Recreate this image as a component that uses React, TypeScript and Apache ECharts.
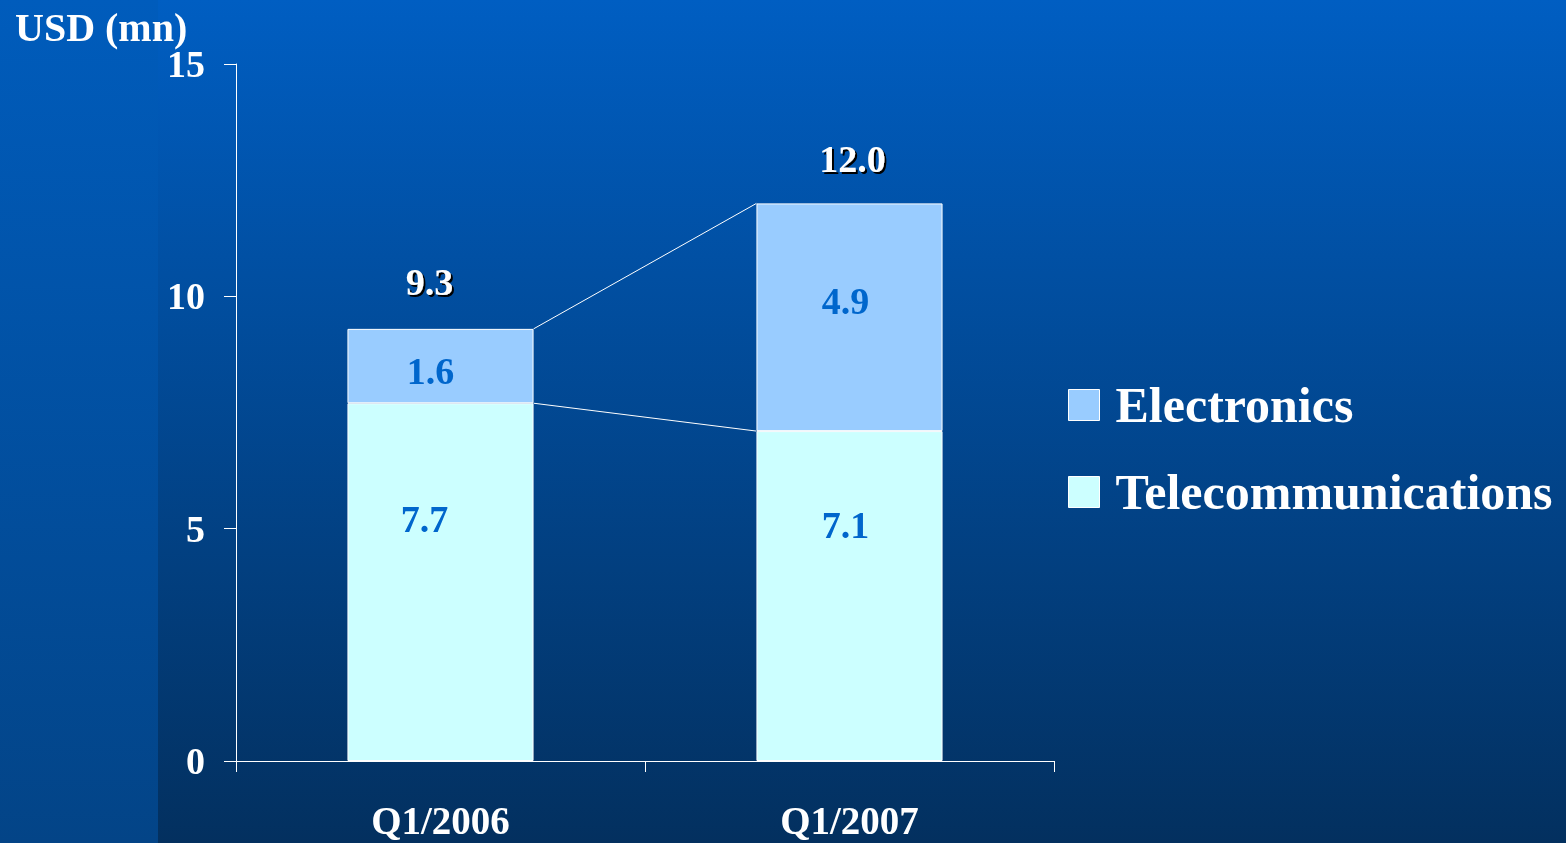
import React, { useEffect, useRef } from "react";
import * as echarts from "echarts";

const categories = ["Q1/2006", "Q1/2007"];
const telecom = [7.7, 7.1];
const electronics = [1.6, 4.9];
const totals = [9.3, 12.0];
const yTicks = [0, 5, 10, 15];

// label offsets (styling only)
const telecomLabelOffsets = [[-16, -63], [-4, -71]];
const elecLabelOffsets = [[-10, 5], [-4, -16]];
const totalLabelOffsets = [[-11, -47], [3, -44]];

const FONT = "'Liberation Serif', 'Times New Roman', serif";
const BAR_FRAC = 0.455;

export default function App() {
  const ref = useRef<HTMLDivElement>(null);
  useEffect(() => {
    if (!ref.current) return;
    const chart = echarts.init(ref.current, null, { renderer: "svg" });
    const connectors: number[][] = [];
    [telecom, totals].forEach((s) => {
      for (let i = 0; i < s.length - 1; i++) connectors.push([i, s[i], s[i + 1]]);
    });
    chart.setOption({
      animation: false,
      graphic: [
        {
          type: "rect",
          z: -10,
          silent: true,
          shape: { x: 0, y: 0, width: 1566, height: 843 },
          style: {
            fill: new echarts.graphic.LinearGradient(0, 0, 0, 1, [
              { offset: 0, color: "#005ec2" },
              { offset: 1, color: "#03305f" },
            ]),
          },
        },
        {
          type: "rect",
          z: -9,
          silent: true,
          shape: { x: 0, y: 0, width: 158, height: 843 },
          style: {
            fill: new echarts.graphic.LinearGradient(0, 0, 0, 1, [
              { offset: 0, color: "#005cbc" },
              { offset: 1, color: "#034487" },
            ]),
          },
        },
      ],
      title: {
        text: "USD (mn)",
        left: 15,
        top: 7,
        padding: 0,
        textStyle: { color: "#fff", fontFamily: FONT, fontWeight: "bold", fontSize: 40 },
      },
      legend: {
        orient: "vertical",
        left: 1068,
        top: 380,
        padding: 0,
        itemWidth: 31,
        itemHeight: 31,
        itemGap: 37,
        icon: "rect",
        data: [
          { name: "Electronics", itemStyle: { borderColor: "#fff", borderWidth: 1 } },
          { name: "Telecommunications", itemStyle: { borderColor: "#fff", borderWidth: 1 } },
        ],
        textStyle: { color: "#fff", fontFamily: FONT, fontWeight: "bold", fontSize: 50, padding: [0, 0, 0, 11] },
      },
      grid: { left: 236, right: 512, top: 64, bottom: 82 },
      xAxis: {
        type: "category",
        data: categories,
        axisLine: { lineStyle: { color: "#fff", width: 1 } },
        axisTick: { show: true, length: 11, lineStyle: { color: "#fff" } },
        axisLabel: { color: "#fff", fontFamily: FONT, fontWeight: "bold", fontSize: 39, margin: 40 },
      },
      yAxis: {
        type: "value",
        min: 0,
        max: 15,
        interval: 5,
        splitLine: { show: false },
        axisLine: { show: true, lineStyle: { color: "#fff", width: 1 } },
        axisTick: { show: true, length: 12, lineStyle: { color: "#fff" } },
        axisLabel: {
          color: "#fff",
          fontFamily: FONT,
          fontWeight: "bold",
          fontSize: 38,
          margin: 31,
          formatter: (v: number) => (yTicks.includes(v) ? String(v) : ""),
        },
      },
      series: [
        {
          name: "Telecommunications",
          type: "bar",
          stack: "total",
          barWidth: BAR_FRAC * 100 + "%",
          itemStyle: { color: "#ccffff", borderColor: "#fff", borderWidth: 1 },
          data: telecom.map((v, i) => ({
            value: v,
            label: { offset: telecomLabelOffsets[i] },
          })),
          label: {
            show: true,
            position: "inside",
            color: "#0066cc",
            fontFamily: FONT,
            fontWeight: "bold",
            fontSize: 38,
            formatter: (p: any) => p.value.toFixed(1),
          },
        },
        {
          name: "Electronics",
          type: "bar",
          stack: "total",
          barWidth: BAR_FRAC * 100 + "%",
          itemStyle: { color: "#99ccff", borderColor: "#fff", borderWidth: 1 },
          data: electronics.map((v, i) => ({
            value: v,
            label: { offset: elecLabelOffsets[i] },
          })),
          label: {
            show: true,
            position: "inside",
            color: "#0066cc",
            fontFamily: FONT,
            fontWeight: "bold",
            fontSize: 38,
            formatter: (p: any) => p.value.toFixed(1),
          },
        },
        {
          name: "Total",
          type: "scatter",
          symbolSize: 0,
          silent: true,
          itemStyle: { opacity: 1 },
          data: totals.map((v, i) => ({
            value: [i, v],
            label: { offset: totalLabelOffsets[i] },
          })),
          label: {
            show: true,
            position: "inside",
            color: "#ffffff",
            opacity: 1,
            fontFamily: FONT,
            fontWeight: "bold",
            fontSize: 38,
            textShadowColor: "#000",
            textShadowOffsetX: 2,
            textShadowOffsetY: 2,
            textShadowBlur: 1,
            formatter: (p: any) => p.value[1].toFixed(1),
          },
          z: 5,
        },
        {
          name: "Connectors",
          type: "custom",
          silent: true,
          encode: { x: 0, y: [1, 2] },
          data: connectors,
          renderItem: (params: any, api: any) => {
            const i = api.value(0);
            const p1 = api.coord([i, api.value(1)]);
            const p2 = api.coord([i + 1, api.value(2)]);
            const bw = api.size([1, 0])[0] * BAR_FRAC;
            return {
              type: "line",
              shape: { x1: p1[0] + bw / 2, y1: p1[1], x2: p2[0] - bw / 2, y2: p2[1] },
              style: { stroke: "#fff", lineWidth: 1 },
            };
          },
          z: 4,
        },
      ],
    });
    return () => chart.dispose();
  }, []);
  return (
    <div
      ref={ref}
      style={{ position: "fixed", left: 0, top: 0, width: 1566, height: 843 }}
    />
  );
}
